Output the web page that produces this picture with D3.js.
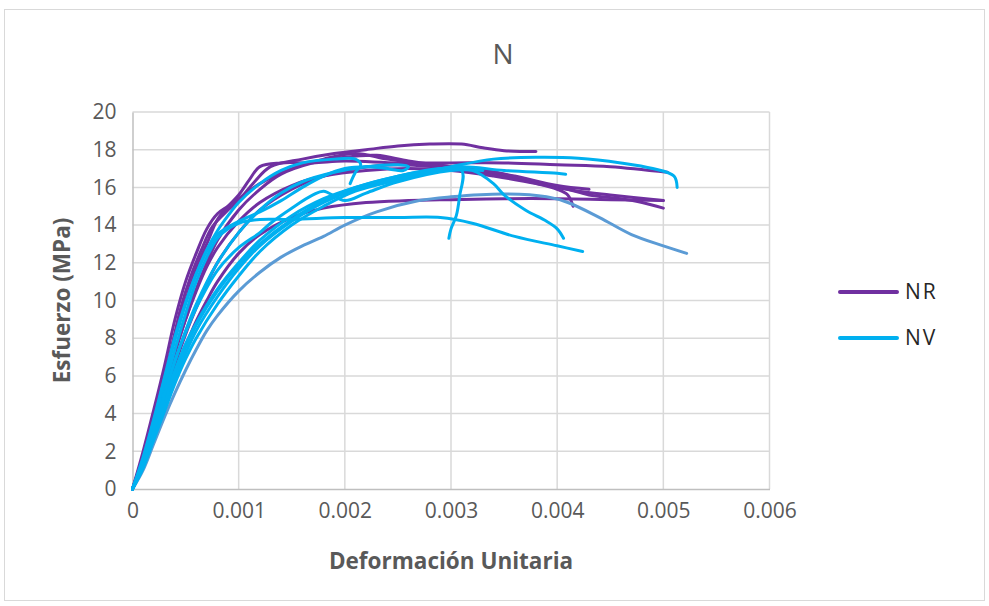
<!DOCTYPE html>
<html>
<head>
<meta charset="utf-8">
<script src="https://cdn.jsdelivr.net/npm/d3@7"></script>
<style>
  body { margin: 0; background: #fff; }
  svg text { font-family: "Open Sans", "Noto Sans", sans-serif; }
</style>
</head>
<body>
<div id="chart"></div>
<script>
'use strict';

// ticks
const xTicks = [0, 0.001, 0.002, 0.003, 0.004, 0.005, 0.006];
const yTicks = [0, 2, 4, 6, 8, 10, 12, 14, 16, 18, 20];

// NR specimens  [strain, stress MPa]
const nr1 = [[0,0],[0.00005,0.8],[0.00015,2.5],[0.00025,4.6],[0.00035,7],[0.00045,9.5],[0.00055,11.3],[0.00065,12.7],[0.00075,13.9],[0.0009,14.8],[0.001,15.3],[0.00115,16.3],[0.0013,17.1],[0.0016,17.5],[0.0019,17.8],[0.0022,18.0],[0.0025,18.2],[0.0028,18.3],[0.0031,18.3],[0.0033,18.1],[0.0035,17.95],[0.0038,17.9]];
const nr2 = [[0,0],[0.0001,1.8],[0.0002,3.8],[0.0003,6],[0.0004,8.2],[0.0005,10],[0.0006,11.7],[0.0007,13],[0.0008,14.3],[0.0009,15],[0.001,15.6],[0.0011,16.4],[0.0012,17.1],[0.0014,17.3],[0.0017,17.3],[0.002,17.4],[0.0025,17.3],[0.003,17.3],[0.0035,17.3],[0.004,17.2],[0.0045,17.1],[0.00504,16.8]];
const nr3 = [[0,0],[0.0001,1.5],[0.0002,3.3],[0.0003,5.3],[0.0004,7.3],[0.0005,9],[0.0006,10.6],[0.0007,12],[0.0008,13.2],[0.001,14.8],[0.0012,15.9],[0.0014,16.7],[0.0017,17.3],[0.002,17.6],[0.0023,17.7],[0.0026,17.4],[0.003,17.1],[0.0034,16.8],[0.0038,16.3],[0.0041,15.9],[0.0043,15.6],[0.0046,15.4],[0.0048,15.2],[0.005,14.9]];
const nr4 = [[0,0],[0.0001,1.3],[0.0002,3],[0.0003,4.8],[0.0004,6.6],[0.0005,8.2],[0.0006,9.6],[0.0007,10.9],[0.0008,12],[0.001,13.6],[0.0012,14.8],[0.0015,15.9],[0.0018,16.6],[0.0021,17],[0.0025,17.2],[0.003,17.0],[0.0035,16.6],[0.0039,16.1],[0.0042,15.8],[0.0045,15.6],[0.005,15.3]];
const nr5 = [[0,0],[0.0001,1.2],[0.0002,2.8],[0.0003,4.5],[0.0004,6.2],[0.0005,7.6],[0.0006,8.9],[0.0007,10],[0.0008,11],[0.001,12.5],[0.0012,13.5],[0.0015,14.4],[0.0018,14.9],[0.0022,15.2],[0.0026,15.3],[0.003,15.35],[0.0035,15.4],[0.004,15.4],[0.0045,15.35],[0.005,15.3]];
const nr6 = [[0,0],[0.0001,1.4],[0.0002,3.2],[0.0003,5.2],[0.0004,7.2],[0.0005,9],[0.0006,10.5],[0.0007,11.8],[0.0008,12.8],[0.001,14.2],[0.0012,15.2],[0.0015,16.1],[0.0018,16.6],[0.0022,16.9],[0.0026,17],[0.003,16.9],[0.0034,16.6],[0.0038,16.2],[0.004,15.9],[0.0041,15.6],[0.00415,15.0]];
const nr7 = [[0,0],[0.0001,2],[0.0002,4.2],[0.0003,6.5],[0.0004,9],[0.0005,11],[0.0006,12.5],[0.0007,13.8],[0.0008,14.6],[0.0009,15],[0.001,15.4],[0.0012,16.2],[0.0015,17],[0.0018,17.5],[0.0021,17.8],[0.0024,17.5],[0.0028,17.2],[0.0032,17.0],[0.0036,16.6],[0.004,16.1],[0.0043,15.9]];

// NV specimens
const nv1 = [[0,0],[0.0001,1.2],[0.0002,2.8],[0.0003,4.4],[0.0004,5.9],[0.0005,7.2],[0.0006,8.4],[0.0008,10.2],[0.001,11.7],[0.0012,12.9],[0.0015,14.2],[0.0018,15.2],[0.0021,15.9],[0.0025,16.5],[0.003,17.1],[0.0034,17.5],[0.0038,17.6],[0.0042,17.55],[0.0046,17.3],[0.0049,17.0],[0.0051,16.6],[0.00513,16.0]];
const nv2 = [[0,0],[0.0001,1.3],[0.0002,3],[0.0003,4.7],[0.0004,6.3],[0.0005,7.7],[0.0006,8.8],[0.0008,10.6],[0.001,12],[0.0012,13.2],[0.0015,14.5],[0.0018,15.4],[0.0021,16],[0.0025,16.6],[0.0028,16.9],[0.0031,17.1],[0.0035,16.9],[0.004,16.75],[0.00408,16.7]];
const nv3 = [[0,0],[0.0001,1.1],[0.0002,2.6],[0.0003,4.1],[0.0004,5.6],[0.0005,6.9],[0.0006,8],[0.0008,9.8],[0.001,11.3],[0.0012,12.6],[0.0015,14],[0.0018,15],[0.0021,15.8],[0.0025,16.4],[0.0028,16.8],[0.0031,16.9],[0.00308,15.5],[0.00305,14.5],[0.003,13.8],[0.00298,13.3]];
const nv4 = [[0,0],[0.0001,1.2],[0.0002,2.9],[0.0003,4.6],[0.0004,6.2],[0.0005,7.5],[0.0006,8.7],[0.0008,10.5],[0.001,11.9],[0.0012,13],[0.0015,14.3],[0.0018,15.3],[0.0021,16.0],[0.0025,16.6],[0.0029,17],[0.0032,16.9],[0.0034,16.2],[0.0035,15.6],[0.0037,14.8],[0.0039,14.2],[0.004,13.8],[0.00406,13.3]];
const nv5 = [[0,0],[0.0001,1.5],[0.0002,3.4],[0.0003,5.4],[0.0004,7.4],[0.0005,9.3],[0.0006,11],[0.0007,12.3],[0.0008,13.3],[0.0009,13.8],[0.001,14.1],[0.0012,14.3],[0.0015,14.3],[0.002,14.4],[0.0025,14.4],[0.0029,14.4],[0.0032,14.1],[0.0036,13.4],[0.004,12.9],[0.00424,12.6]];
const nv6 = [[0,0],[0.0001,1.6],[0.0002,3.6],[0.0003,5.8],[0.0004,7.9],[0.0005,9.8],[0.0006,11.4],[0.0007,12.7],[0.0008,13.7],[0.0009,14.5],[0.001,15.2],[0.0012,16.2],[0.0014,16.9],[0.0016,17.3],[0.0019,17.5],[0.0021,17.5],[0.00215,17.2],[0.0021,16.8],[0.00205,16.2]];
const nv7 = [[0,0],[0.0001,1.4],[0.0002,3.2],[0.0003,5],[0.0004,6.8],[0.0005,8.4],[0.0006,9.8],[0.0008,12],[0.001,13.6],[0.0012,14.8],[0.0014,15.7],[0.0016,16.3],[0.0019,16.8],[0.0022,17.1],[0.0025,17.2],[0.0026,17.1],[0.00255,16.9],[0.0024,17.0]];
const nv8 = [[0,0],[0.0001,1.3],[0.0002,3.1],[0.0003,5],[0.0004,6.8],[0.0005,8.3],[0.0006,9.6],[0.0008,11.6],[0.001,12.8],[0.0012,13.6],[0.0013,14.1],[0.0015,14.9],[0.0017,15.6],[0.0018,15.8],[0.002,15.3],[0.0022,15.7],[0.0025,16.3],[0.003,16.9],[0.0033,16.9]];
const nv9 = [[0,0],[0.0001,1.7],[0.0002,3.7],[0.0003,5.9],[0.0004,8.1],[0.0005,9.9],[0.0006,11.4],[0.0007,12.6],[0.0008,13.5],[0.001,14.2],[0.0012,14.7],[0.0014,15.3],[0.0016,16.0],[0.0018,16.6],[0.002,17.0],[0.0022,17.1],[0.0024,17.0]];
const nv10 = [[0,0],[0.0001,1.0],[0.0002,2.4],[0.0003,3.8],[0.0004,5.1],[0.0005,6.3],[0.0006,7.4],[0.0007,8.4],[0.0008,9.2],[0.001,10.5],[0.0012,11.5],[0.0014,12.3],[0.0016,12.9],[0.0018,13.4],[0.002,14],[0.0023,14.7],[0.0027,15.3],[0.003,15.5],[0.0035,15.65],[0.0039,15.5],[0.0041,15.2],[0.0044,14.4],[0.0047,13.5],[0.005,12.9],[0.00522,12.5]];

const nrSeries = [nr1, nr2, nr3, nr4, nr5, nr6, nr7];
const nvSeries = [nv1, nv2, nv3, nv4, nv5, nv6, nv7, nv8, nv9];
const nvPale = [nv10];

const legendNames = ["NR", "NV"];
const colors = { NR: "#7030a0", NV: "#00b0f0", pale: "#5b9bd5" };

const W = 989, H = 606;
const svg = d3.select("#chart").append("svg")
    .attr("width", W)
    .attr("height", H);

// outer frame
svg.append("rect")
    .attr("x", 4.5).attr("y", 9.5)
    .attr("width", 980).attr("height", 591)
    .attr("fill", "#fff")
    .attr("stroke", "#d9d9d9");

const xScale = d3.scaleLinear().domain([0, 0.006]).range([132.5, 769.5]);
const yScale = d3.scaleLinear().domain([0, 20]).range([489, 112]);

// grid
svg.append("g").selectAll("line")
    .data(yTicks.slice(1))
    .enter().append("line")
    .attr("x1", xScale(0)).attr("x2", xScale(0.006))
    .attr("y1", d => yScale(d)).attr("y2", d => yScale(d))
    .attr("stroke", "#d9d9d9").attr("stroke-width", 1.5);
svg.append("g").selectAll("line")
    .data(xTicks.slice(1))
    .enter().append("line")
    .attr("x1", d => xScale(d)).attr("x2", d => xScale(d))
    .attr("y1", yScale(0)).attr("y2", yScale(20))
    .attr("stroke", "#d9d9d9").attr("stroke-width", 1.5);

// axes
let xAxis = svg.append("g")
    .attr("transform", "translate(0," + yScale(0) + ")")
    .call(d3.axisBottom(xScale).tickValues(xTicks).tickSize(0).tickPadding(14)
        .tickFormat(d => d === 0 ? "0" : d3.format(".3f")(d)));
xAxis.select(".domain").attr("stroke", "#bfbfbf").attr("stroke-width", 1.5);
xAxis.selectAll("text").attr("font-size", 21).attr("fill", "#595959")
    .attr("dy", "0.71em");

let yAxis = svg.append("g")
    .attr("transform", "translate(" + xScale(0) + ",0)")
    .call(d3.axisLeft(yScale).tickValues(yTicks).tickSize(0).tickPadding(16));
yAxis.select(".domain").attr("stroke", "#bfbfbf").attr("stroke-width", 1.5);
yAxis.selectAll("text").attr("font-size", 21).attr("fill", "#595959");

// titles
svg.append("text")
    .attr("x", 503).attr("y", 64)
    .attr("text-anchor", "middle")
    .attr("font-size", 28)
    .attr("fill", "#595959")
    .text("N");

svg.append("text")
    .attr("x", 451).attr("y", 569)
    .attr("text-anchor", "middle")
    .attr("font-size", 22.5)
    .attr("font-weight", "bold")
    .attr("fill", "#595959")
    .text("Deformación Unitaria");

svg.append("text")
    .attr("transform", "translate(70," + yScale(10) + ") rotate(-90)")
    .attr("text-anchor", "middle")
    .attr("font-size", 22.5)
    .attr("font-weight", "bold")
    .attr("fill", "#595959")
    .text("Esfuerzo (MPa)");

// curves
const line = d3.line()
    .x(d => xScale(d[0]))
    .y(d => yScale(d[1]))
    .curve(d3.curveCatmullRom.alpha(0.5));

function drawGroup(series, color) {
    svg.append("g").selectAll("path")
        .data(series)
        .enter().append("path")
        .attr("d", line)
        .attr("fill", "none")
        .attr("stroke", color)
        .attr("stroke-width", 3)
        .attr("stroke-linejoin", "round")
        .attr("stroke-linecap", "round");
}
drawGroup(nrSeries, colors.NR);
drawGroup(nvPale, colors.pale);
drawGroup(nvSeries, colors.NV);

// legend
const legend = svg.append("g").selectAll("g")
    .data(legendNames)
    .enter().append("g")
    .attr("transform", (d, i) => "translate(840," + (292 + i * 46) + ")");
legend.append("line")
    .attr("x1", 0).attr("x2", 57)
    .attr("stroke", d => colors[d])
    .attr("stroke-width", 4)
    .attr("stroke-linecap", "round");
legend.append("text")
    .attr("x", 65).attr("y", 7)
    .attr("font-size", 21)
    .attr("letter-spacing", 2)
    .attr("fill", "#262626")
    .text(d => d);
</script>
</body>
</html>
